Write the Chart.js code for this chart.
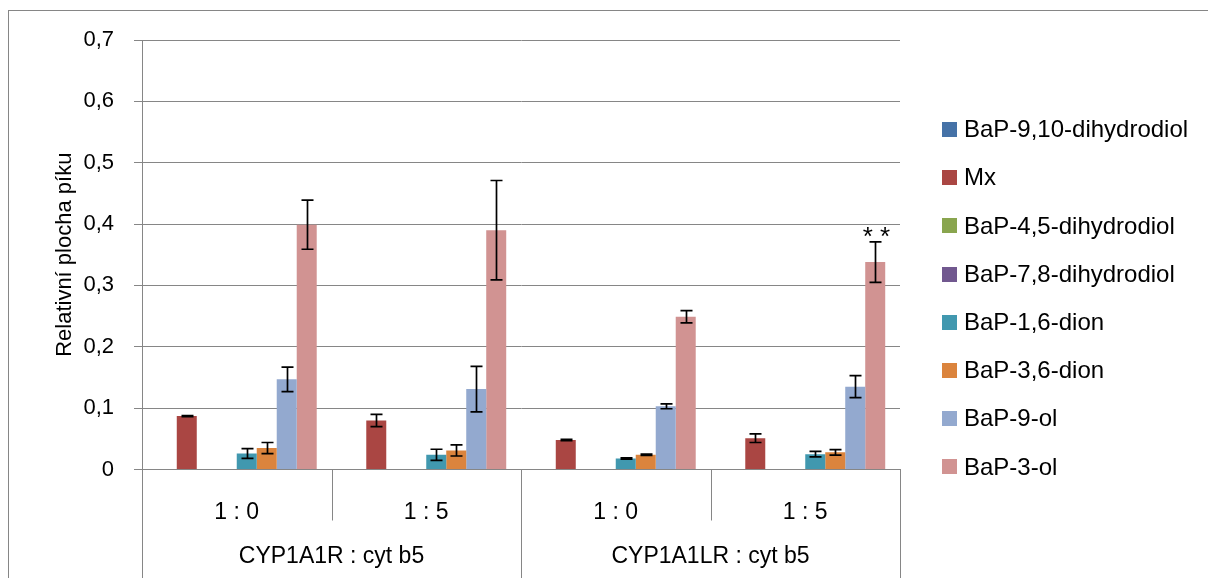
<!DOCTYPE html>
<html>
<head>
<meta charset="utf-8">
<script src="https://cdn.jsdelivr.net/npm/chart.js@4/dist/chart.umd.min.js"></script>
<style>
  html, body { margin: 0; padding: 0; background: #fff; }
  canvas { display: block; }
</style>
</head>
<body>
<canvas id="graf" width="1208" height="578"></canvas>
<script>
// kategorie
const podminky = ["1 : 0", "1 : 5", "1 : 0", "1 : 5"];
const skupiny = ["CYP1A1R : cyt b5", "CYP1A1LR : cyt b5"];
const osaY = ["0", "0,1", "0,2", "0,3", "0,4", "0,5", "0,6", "0,7"];

// hodnoty a chyby
const bap910diol = [0, 0, 0, 0];
const mx = [0.087, 0.080, 0.048, 0.051];
const mxErr = [0.001, 0.010, 0.001, 0.007];
const bap45diol = [0, 0, 0, 0];
const bap78diol = [0, 0, 0, 0];
const bap16dion = [0.026, 0.024, 0.018, 0.025];
const bap16dionErr = [0.008, 0.009, 0.001, 0.0045];
const bap36dion = [0.035, 0.031, 0.024, 0.028];
const bap36dionErr = [0.009, 0.009, 0.001, 0.0045];
const bap9ol = [0.147, 0.131, 0.103, 0.135];
const bap9olErr = [0.020, 0.037, 0.004, 0.018];
const bap3ol = [0.399, 0.390, 0.249, 0.338];
const bap3olErr = [0.040, 0.081, 0.010, 0.033];
const hvezdicky = ["", "", "", "**"];

const serie = [
    { label: "BaP-9,10-dihydrodiol", data: bap910diol, err: null, color: "#4572A7" },
    { label: "Mx", data: mx, err: mxErr, color: "#AA4643" },
    { label: "BaP-4,5-dihydrodiol", data: bap45diol, err: null, color: "#89A54E" },
    { label: "BaP-7,8-dihydrodiol", data: bap78diol, err: null, color: "#71588F" },
    { label: "BaP-1,6-dion", data: bap16dion, err: bap16dionErr, color: "#4198AF" },
    { label: "BaP-3,6-dion", data: bap36dion, err: bap36dionErr, color: "#DB843D" },
    { label: "BaP-9-ol", data: bap9ol, err: bap9olErr, color: "#93A9CF" },
    { label: "BaP-3-ol", data: bap3ol, err: bap3olErr, color: "#D19392" }
];

const seda = "#868686";
const pismo = "'Liberation Sans', Arial, sans-serif";

// chybove usecky, popisky skupin, delici cary, legenda
const doplnky = {
    id: "doplnky",
    beforeDraw(chart) {
        const ctx = chart.ctx;
        ctx.save();
        ctx.strokeStyle = seda;
        ctx.lineWidth = 1;
        ctx.beginPath();
        ctx.moveTo(8, 10.5);
        ctx.lineTo(1208, 10.5);
        ctx.moveTo(8.5, 10);
        ctx.lineTo(8.5, 578);
        ctx.stroke();
        ctx.restore();
    },
    afterDatasetsDraw(chart) {
        const ctx = chart.ctx;
        const ys = chart.scales.y;
        ctx.save();
        ctx.strokeStyle = "#000";
        ctx.lineWidth = 1.7;
        chart.data.datasets.forEach((ds, i) => {
            if (!ds.err) return;
            const meta = chart.getDatasetMeta(i);
            meta.data.forEach((bar, j) => {
                const v = ds.data[j], e = ds.err[j];
                const x = Math.round(bar.x) + 0.5;
                const yt = ys.getPixelForValue(v + e);
                const yb = ys.getPixelForValue(v - e);
                ctx.beginPath();
                ctx.moveTo(x, yt); ctx.lineTo(x, yb);
                ctx.moveTo(x - 6, yt); ctx.lineTo(x + 6, yt);
                ctx.moveTo(x - 6, yb); ctx.lineTo(x + 6, yb);
                ctx.stroke();
                if (i === 7 && hvezdicky[j]) {
                    ctx.fillStyle = "#000";
                    ctx.font = "26px " + pismo;
                    ctx.textAlign = "center";
                    ctx.textBaseline = "alphabetic";
                    ctx.fillText(hvezdicky[j].split("").join(" "), x + 1, yt + 3);
                }
            });
        });
        ctx.restore();
    },
    afterDraw(chart) {
        const ctx = chart.ctx;
        const xs = chart.scales.x;
        const bottom = chart.chartArea.bottom;
        ctx.save();
        ctx.strokeStyle = seda;
        ctx.lineWidth = 1;
        for (let i = 0; i <= podminky.length; i++) {
            const x = Math.round(xs.getPixelForValue(i - 0.5)) + 0.5;
            ctx.beginPath();
            ctx.moveTo(x, bottom);
            ctx.lineTo(x, i % 2 === 1 ? bottom + 51 : 578);
            ctx.stroke();
        }
        ctx.fillStyle = "#000";
        ctx.font = "23px " + pismo;
        ctx.textAlign = "center";
        ctx.textBaseline = "middle";
        skupiny.forEach((s, g) => {
            const x = (xs.getPixelForValue(2 * g) + xs.getPixelForValue(2 * g + 1)) / 2;
            ctx.fillText(s, x, 557);
        });
        // legenda
        ctx.textAlign = "left";
        ctx.font = "24px " + pismo;
        chart.data.datasets.forEach((ds, i) => {
            const y = 129.5 + i * 48.2;
            ctx.fillStyle = ds.backgroundColor;
            ctx.fillRect(942, Math.round(y - 7.5), 15, 15);
            ctx.fillStyle = "#000";
            ctx.fillText(ds.label, 964, y + 1);
        });
        ctx.restore();
    }
};

new Chart(document.getElementById("graf"), {
    type: "bar",
    data: {
        labels: podminky,
        datasets: serie.map(s => ({
            label: s.label,
            data: s.data,
            err: s.err,
            backgroundColor: s.color,
            borderWidth: 0,
            categoryPercentage: 0.844,
            barPercentage: 1.0
        }))
    },
    options: {
        responsive: false,
        animation: false,
        layout: { padding: { left: 0, top: 40, right: 308, bottom: 0 } },
        plugins: {
            legend: { display: false },
            tooltip: { enabled: false }
        },
        scales: {
            x: {
                afterFit(scale) { scale.height = 108.5; },
                grid: { display: false },
                border: { display: true, color: seda },
                ticks: {
                    color: "#000",
                    font: { family: pismo, size: 23 },
                    padding: 21,
                    maxRotation: 0
                }
            },
            y: {
                min: 0,
                max: 0.7,
                afterFit(scale) { scale.width = 142; },
                ticks: {
                    stepSize: 0.1,
                    color: "#000",
                    padding: 20,
                    font: { family: pismo, size: 22 },
                    callback: (v, i) => osaY[i]
                },
                grid: { color: seda, tickColor: seda, tickLength: 8, lineWidth: 1 },
                border: { display: true, color: seda },
                title: {
                    display: true,
                    text: "Relativní plocha píku",
                    color: "#000",
                    font: { family: pismo, size: 22 },
                    padding: { top: 52, bottom: 0 }
                }
            }
        }
    },
    plugins: [doplnky]
});
</script>
</body>
</html>
